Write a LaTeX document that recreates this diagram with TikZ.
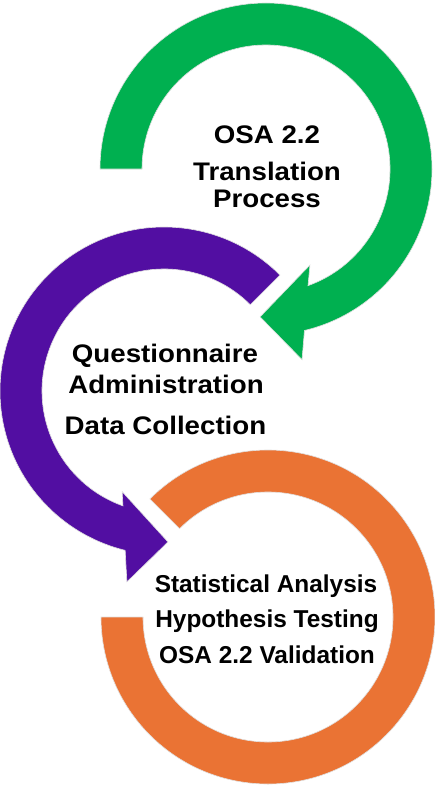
\documentclass[tikz,border=0pt]{standalone}
\usepackage{fontspec}
\setmainfont{Liberation Sans}
\definecolor{ringgreen}{RGB}{0,176,80}
\definecolor{ringpurple}{RGB}{82,14,162}
\definecolor{ringorange}{RGB}{234,115,52}
\begin{document}
\begin{tikzpicture}[x=1bp, y=1bp,
        ring/.style={draw=black!12, line width=0.6bp},
        lbl/.style={anchor=base, inner sep=0pt, xscale=1.09, font={\bfseries\fontsize{25.5}{30}\selectfont}},
        lblo/.style={anchor=base, inner sep=0pt, font={\bfseries\fontsize{24.5}{30}\selectfont}}]
    \useasboundingbox (0,-785) rectangle (435,0);
    % orange ring
    \begin{scope}[shift={(268,-617)}]
        \filldraw[fill=ringorange, ring] (135:167) arc[start angle=135, end angle=-180, radius=167]
            -- (180:125) arc[start angle=-180, end angle=135, radius=125] -- cycle;
    \end{scope}
    % purple arrow
    \begin{scope}[shift={(164,-391)}]
        \filldraw[fill=ringpurple, ring] (45:164) arc[start angle=45, end angle=256.3, radius=164]
            -- (259:194.5) -- (271.5:151) -- (247.4:109) -- (250.35:122)
            arc[start angle=250.35, end angle=45, radius=122] -- cycle;
    \end{scope}
    % green arrow
    \begin{scope}[shift={(266,-169)}]
        \filldraw[fill=ringgreen, ring] (180:166) arc[start angle=180, end angle=-76.6, radius=166]
            -- (-79.3:194) -- (-92.3:148) -- (-65.4:105.6) -- (-70.2:124)
            arc[start angle=-70.2, end angle=180, radius=124] -- cycle;
    \end{scope}
    \node[lbl] (osa) at (267,-143) {OSA 2.2};
    \node[lbl] (transl) at (267,-180) {Translation};
    \node[lbl] (process) at (267,-207) {Process};
    \node[lbl] (quest) at (165,-362) {Questionnaire};
    \node[lbl] (admin) at (166,-393) {Administration};
    \node[lbl] (datacoll) at (165.5,-434) {Data Collection};
    \node[lblo] (stats) at (266,-592) {Statistical Analysis};
    \node[lblo] (hypo) at (267,-627) {Hypothesis Testing};
    \node[lblo] (valid) at (267,-663) {OSA 2.2 Validation};
\end{tikzpicture}
\end{document}
